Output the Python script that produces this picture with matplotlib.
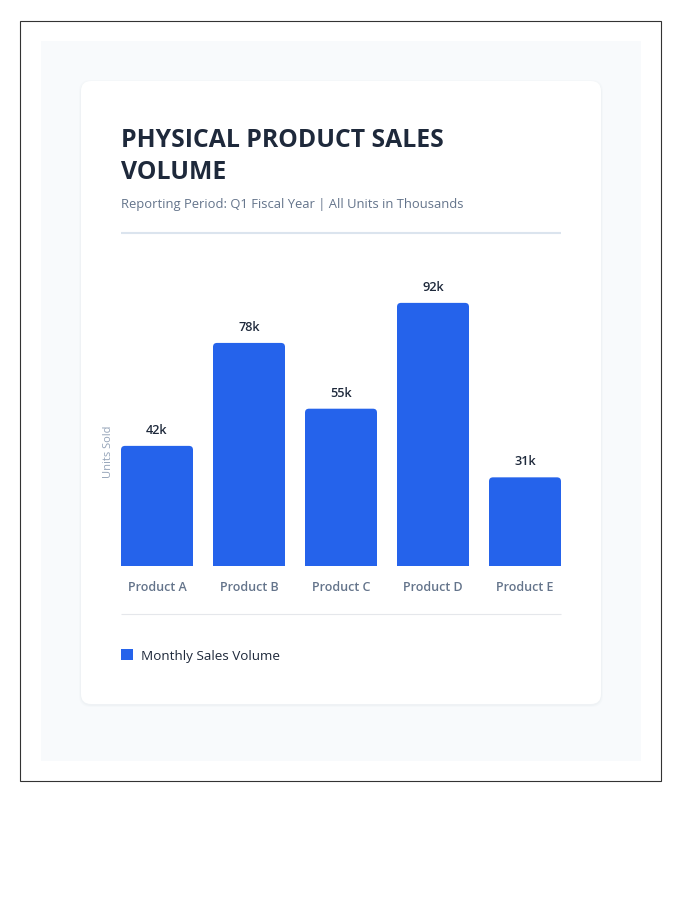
import matplotlib
matplotlib.use("Agg")
import matplotlib.pyplot as plt
import numpy as np
from matplotlib.patches import FancyBboxPatch, Rectangle, Patch

# data
products = ["Product A", "Product B", "Product C", "Product D", "Product E"]
units_k = [42, 78, 55, 92, 31]
value_labels = ["42k", "78k", "55k", "92k", "31k"]
series_name = "Monthly Sales Volume"
title_lines = ["PHYSICAL PRODUCT SALES", "VOLUME"]
subtitle = "Reporting Period: Q1 Fiscal Year | All Units in Thousands"
y_label = "Units Sold"

BLUE = "#2563eb"
DARK = "#1e293b"
GRAY = "#64748b"
LIGHT = "#94a3b8"

plt.rcParams["font.family"] = ["Open Sans", "DejaVu Sans"]

W, H = 700, 900
fig = plt.figure(figsize=(7, 9), dpi=100)

# page background, drawn in pixel coordinates
bg = fig.add_axes([0, 0, 1, 1])
bg.set_xlim(0, W)
bg.set_ylim(H, 0)
bg.axis("off")

bg.add_patch(Rectangle((20, 20.5), 641, 760, fill=False, ec="#333333", lw=0.8))
bg.add_patch(Rectangle((41, 41), 600, 720, fc="#f8fafc", ec="none"))
# soft shadow under the card
for grow, a in [(2, 0.03), (1, 0.05)]:
    bg.add_patch(FancyBboxPatch((81 - grow, 82 - grow), 520 + 2 * grow, 623 + 2 * grow,
                                boxstyle="round,pad=0,rounding_size=12",
                                fc="#94a3b8", ec="none", alpha=a))
bg.add_patch(FancyBboxPatch((81, 81), 520, 623, boxstyle="round,pad=0,rounding_size=10",
                            fc="white", ec="none"))

bg.text(121, 147, title_lines[0], fontsize=17.8, fontweight="bold", color=DARK, va="baseline")
bg.text(121, 179, title_lines[1], fontsize=17.8, fontweight="bold", color=DARK, va="baseline")
bg.text(121, 208, subtitle, fontsize=9.4, color=GRAY, va="baseline")
bg.plot([121, 561], [233, 233], color="#dbe4ee", lw=1.5, solid_capstyle="butt")
bg.plot([121, 561], [614, 614], color="#e5e7eb", lw=0.8, solid_capstyle="butt")

# chart
ax_left, ax_w = 121, 440
ax_base, ax_h = 566, 286
ax = fig.add_axes([ax_left / W, (H - ax_base) / H, ax_w / W, ax_h / H])
ax.set_facecolor("none")
ymax = 100
ax.set_ylim(0, ymax)

x = np.arange(len(products))
step_px = 92
bar_w = 72 / step_px
ax.set_xlim(-bar_w / 2, len(products) - 1 + bar_w / 2)

px_y = ymax / ax_h            # data units per pixel (y)
px_x = 1 / step_px            # data units per pixel (x)
r_px = 4
asp = px_y / px_x

# square lower part, rounded top cap
ax.bar(x, [v - 2 * r_px * px_y for v in units_k], width=bar_w, color=BLUE)
for xi, v in zip(x, units_k):
    ax.add_patch(FancyBboxPatch((xi - bar_w / 2, 0), bar_w, v,
                                boxstyle=f"round,pad=0,rounding_size={r_px * px_x}",
                                mutation_aspect=asp, fc=BLUE, ec="none"))

for xi, v, lab in zip(x, units_k, value_labels):
    ax.text(xi, v + 9 * px_y, lab, ha="center", va="bottom", fontsize=9.2,
            fontweight="semibold", color=DARK)

ax.set_xticks(x, products)
ax.tick_params(axis="x", length=0, pad=11, labelsize=9, labelcolor=GRAY)
for t in ax.get_xticklabels():
    t.set_fontweight("semibold")
ax.set_yticks([])
for s in ax.spines.values():
    s.set_visible(False)

ax.set_ylabel(y_label, fontsize=8, color=LIGHT)
ax.yaxis.set_label_coords(-0.016, (ax_base - 452) / ax_h)

fig.legend(handles=[Patch(facecolor=BLUE, edgecolor="none", label=series_name)],
           loc="center left", bbox_to_anchor=(121 / W, 1 - 656 / H),
           frameon=False, fontsize=9.7, labelcolor=DARK,
           handlelength=0.88, handleheight=0.88, handletextpad=0.6,
           borderpad=0, borderaxespad=0)

fig.savefig("out.png", dpi=100)
